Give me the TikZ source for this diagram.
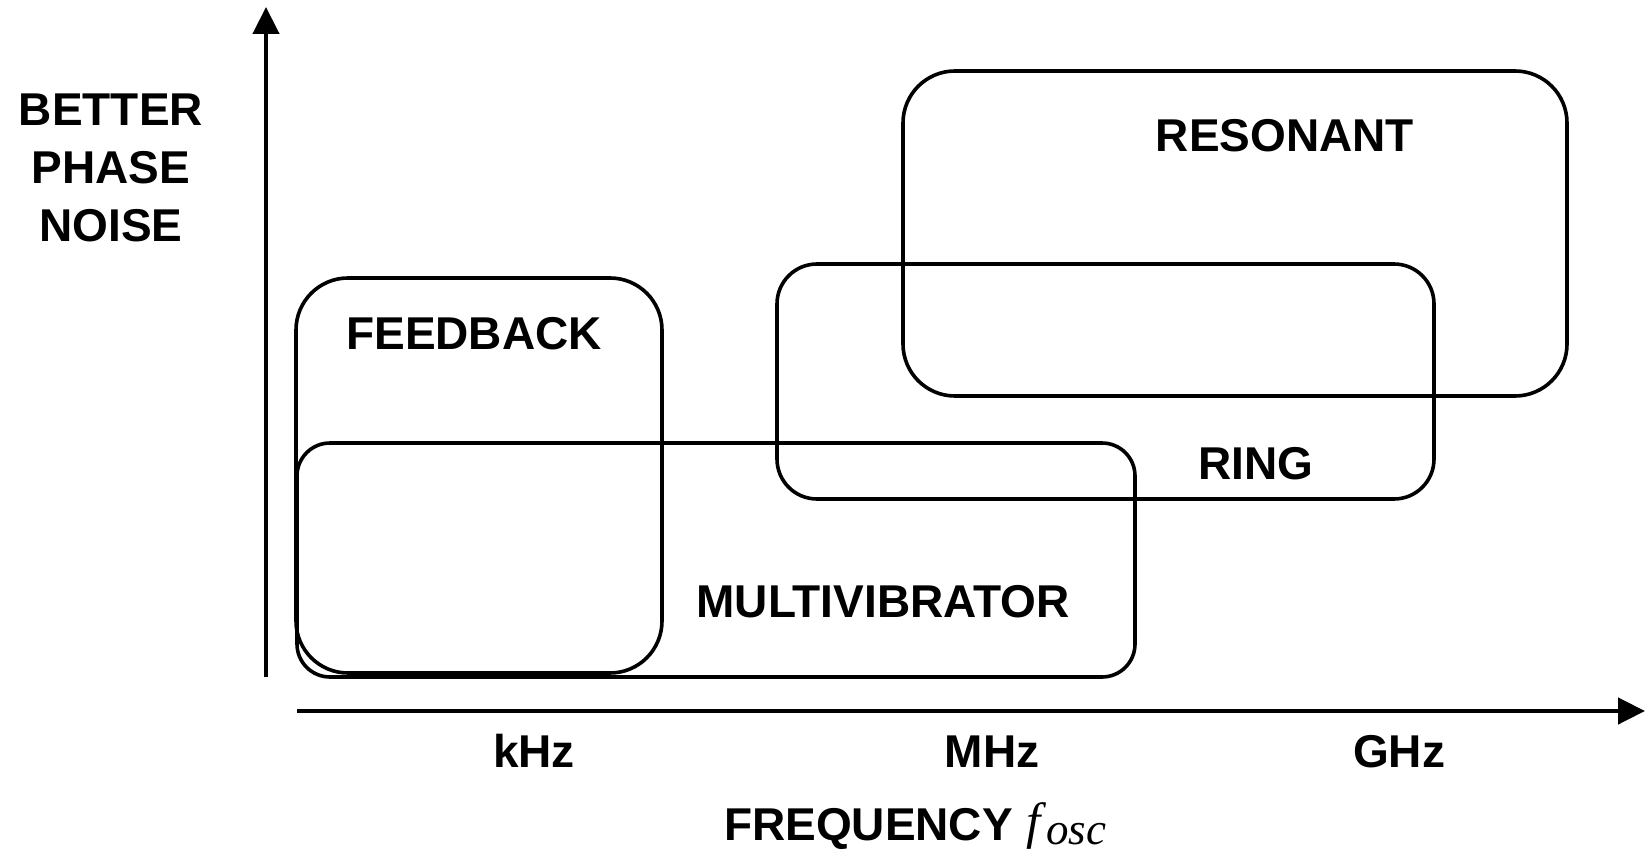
\documentclass[tikz,border=0pt]{standalone}
\usepackage{fontspec}
\setmainfont{Liberation Sans}
\newfontfamily\timesit{Liberation Serif}
\usetikzlibrary{arrows.meta}

\begin{document}
\begin{tikzpicture}[x=1pt, y=-1pt, >={Triangle[length=27pt,width=26pt]},
    box/.style={line width=3.6pt, rounded corners=#1},
    lbl/.style={font=\fontsize{46}{58}\selectfont\bfseries, inner sep=0pt, anchor=base}]
  \useasboundingbox (0,0) rectangle (1646,853);
  % axes
  \coordinate (origin) at (266,677);
  \coordinate (ytip) at (266,7);
  \coordinate (xstart) at (297,711);
  \coordinate (xtip) at (1645,711);
  \draw[->, line width=4.5pt] (origin) -- (ytip);
  \draw[->, line width=4.5pt] (xstart) -- (xtip);
  % oscillator regions
  \draw[box=52pt] (296,278) rectangle (662,673);
  \draw[box=33pt] (297,443) rectangle (1135,677);
  \draw[box=40pt] (777,264) rectangle (1434,499);
  \draw[box=52pt] (903,71) rectangle (1567,396);
  \node[lbl] (feedback) at (474,349) {FEEDBACK};
  \node[lbl] (multi) at (883,617) {MULTIVIBRATOR};
  \node[lbl] (ring) at (1256,479) {RING};
  \node[lbl] (resonant) at (1285,152) {RESONANT};
  % axis labels
  \node[lbl, align=center, anchor=center] (noise) at (111,168) {BETTER\\PHASE\\NOISE};
  \node[lbl] (khz) at (534,767) {kHz};
  \node[lbl] (mhz) at (992,767) {MHz};
  \node[lbl] (ghz) at (1399,767) {GHz};
  \node[lbl, anchor=base east] (freq) at (1013,840) {FREQUENCY};
  \node[anchor=base west, inner sep=0pt, font=\timesit\itshape] (fosc) at (1026,838)
    {\fontsize{51}{51}\selectfont f\kern6pt\raisebox{-6pt}{\fontsize{45}{45}\selectfont osc}};
\end{tikzpicture}
\end{document}
